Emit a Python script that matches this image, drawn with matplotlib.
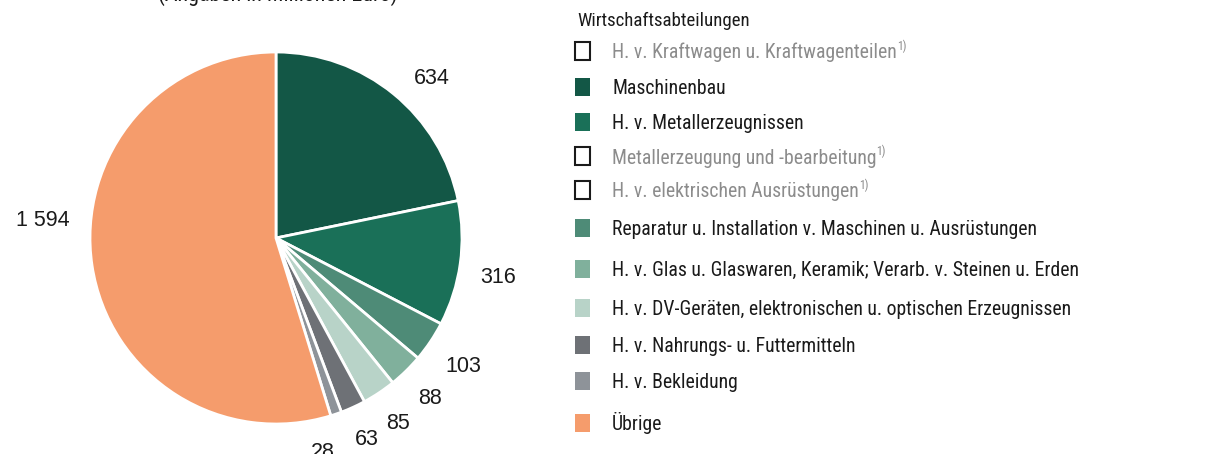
import matplotlib
matplotlib.use("Agg")
import numpy as np
import matplotlib.pyplot as plt
from matplotlib.patches import Rectangle

plt.rcParams['font.family'] = ['Roboto Condensed', 'DejaVu Sans']
NUM_FONT = ['Liberation Sans', 'DejaVu Sans']

title = "(Angaben in Millionen Euro)"
legend_title = "Wirtschaftsabteilungen"
categories = [
    "H. v. Kraftwagen u. Kraftwagenteilen",
    "Maschinenbau",
    "H. v. Metallerzeugnissen",
    "Metallerzeugung und -bearbeitung",
    "H. v. elektrischen Ausrüstungen",
    "Reparatur u. Installation v. Maschinen u. Ausrüstungen",
    "H. v. Glas u. Glaswaren, Keramik; Verarb. v. Steinen u. Erden",
    "H. v. DV-Geräten, elektronischen u. optischen Erzeugnissen",
    "H. v. Nahrungs- u. Futtermitteln",
    "H. v. Bekleidung",
    "Übrige",
]
values = [None, 634, 316, None, None, 103, 88, 85, 63, 28, 1594]
footnote = [True, False, False, True, True, False, False, False, False, False, False]
colors = ["#ffffff", "#135746", "#1a7058", "#ffffff", "#ffffff", "#4e8b77",
          "#80b09c", "#b8d3c8", "#6e7176", "#8e9399", "#f59c6c"]
# layout: angular nudge (degrees) of each value label
label_nudge = [0, -4.7, -1.5, 0, 0, 0, 0, 0, 0, -6.4, -13.5]

W, H = 1216, 454
fig = plt.figure(figsize=(W / 100, H / 100), dpi=100)

cx, cy, R = 276, 238, 186
ax = fig.add_axes([(cx - R) / W, (H - cy - R) / H, 2 * R / W, 2 * R / H])

pv = [v for v in values if v is not None]
pc = [c for v, c in zip(values, colors) if v is not None]
pn = [n for v, n in zip(values, label_nudge) if v is not None]
wedges, _ = ax.pie(pv, colors=pc, startangle=90, counterclock=False, radius=1,
                   wedgeprops=dict(edgecolor='white', linewidth=2))
ax.set_xlim(-1, 1)
ax.set_ylim(-1, 1)
ax.axis('off')

renderer = fig.canvas.get_renderer()
for w, v, n in zip(wedges, pv, pn):
    ang = np.deg2rad((w.theta1 + w.theta2) / 2 + n)
    s = f"{v:,}".replace(",", " ")
    t = fig.text(0, 0, s, fontsize=15.5, family=NUM_FONT, color='#1a1a1a',
                 ha='center', va='center_baseline')
    bb = t.get_window_extent(renderer=renderer)
    proj = abs(np.cos(ang)) * bb.width / 2 + abs(np.sin(ang)) * 8.5
    r = 1.11 * R + proj
    x = cx + r * np.cos(ang)
    y = cy - r * np.sin(ang)
    t.set_position((x / W, 1 - y / H))

fig.text(278 / W, 1 - 0.5 / H, title, ha='center', va='baseline', fontsize=15.8, color='#1a1a1a')

# Legend
fig.text(577 / W, 1 - 25.5 / H, legend_title, ha='left', va='baseline', fontsize=13.6, color='#1a1a1a')
ys = [51, 86.5, 121.5, 156, 189.5, 227.5, 268.5, 307.5, 344.5, 380.5, 422.5]
for cat, col, fn, y in zip(categories, colors, footnote, ys):
    sw, sh = 15, 18
    rect = Rectangle((575 / W, (H - y - sh / 2) / H), sw / W, sh / H,
                     transform=fig.transFigure, facecolor=col,
                     edgecolor='#1a1a1a' if fn else col, linewidth=1.5 if fn else 0)
    fig.add_artist(rect)
    tc = '#8c8c8c' if fn else '#1a1a1a'
    t = fig.text(612 / W, 1 - (y + 7.5) / H, cat, ha='left', va='baseline', fontsize=14.2, color=tc)
    if fn:
        bb = t.get_window_extent(renderer=renderer)
        fig.text(bb.x1 / W, 1 - (y - 0.5) / H, "1)", ha='left', va='baseline',
                 fontsize=8.5, color=tc)

fig.savefig("out.png", dpi=100)
